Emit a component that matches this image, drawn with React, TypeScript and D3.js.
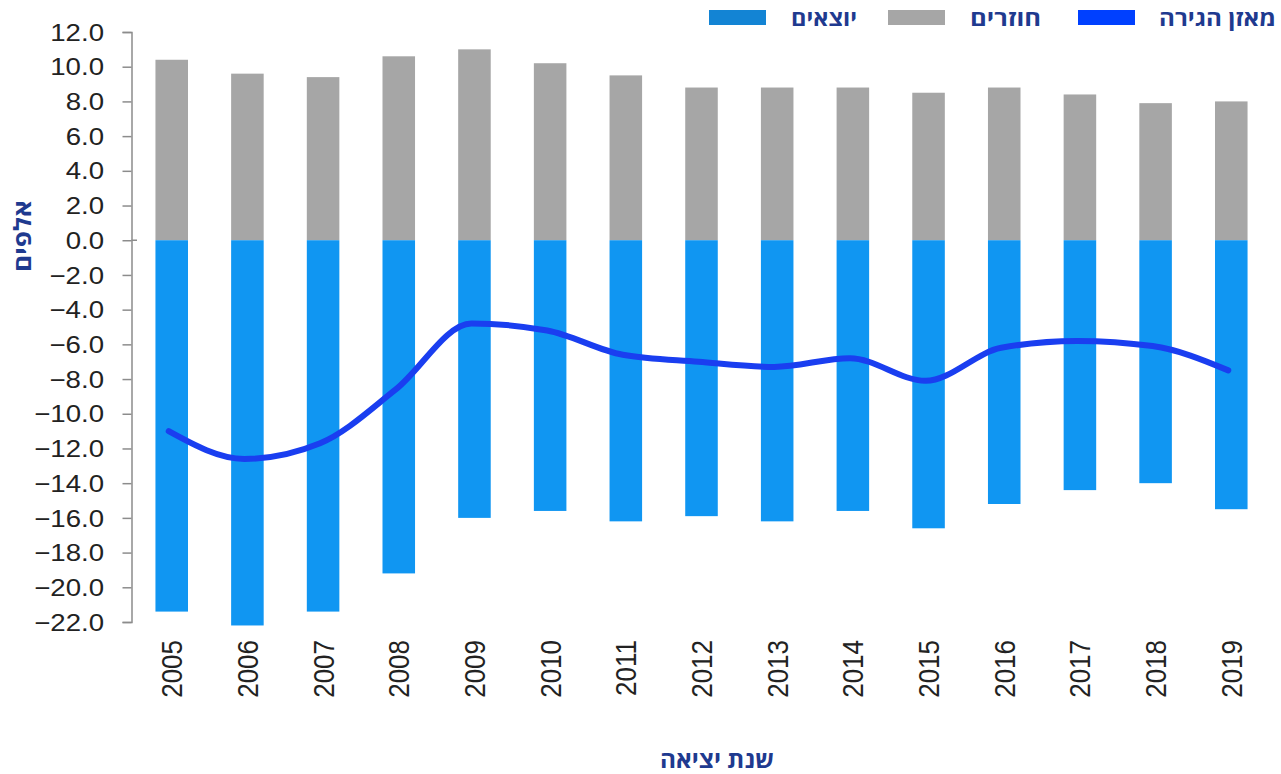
import React, { useEffect, useRef } from "react";
import * as d3 from "d3";

const years = ["2005", "2006", "2007", "2008", "2009", "2010", "2011", "2012", "2013", "2014", "2015", "2016", "2017", "2018", "2019"];
const returners = [10.4, 9.6, 9.4, 10.6, 11.0, 10.2, 9.5, 8.8, 8.8, 8.8, 8.5, 8.8, 8.4, 7.9, 8.0];
const leavers = [-21.4, -22.2, -21.4, -19.2, -16.0, -15.6, -16.2, -15.9, -16.2, -15.6, -16.6, -15.2, -14.4, -14.0, -15.5];
const balance = [-11.0, -12.6, -11.7, -8.6, -4.8, -5.2, -6.6, -7.0, -7.3, -6.8, -8.1, -6.2, -5.8, -6.1, -7.5];
const yTicks = [12, 10, 8, 6, 4, 2, 0, -2, -4, -6, -8, -10, -12, -14, -16, -18, -20, -22];

const W = 1281;
const H = 774;
const TITLE_COLOR = "#1f3a8f";
const HEB_FONT = "'Open Sans', 'DejaVu Sans', sans-serif";
const NUM_FONT = "'Liberation Sans', Arial, sans-serif";

export default function App() {
  const ref = useRef<SVGSVGElement>(null);

  useEffect(() => {
    const svg = d3.select(ref.current);
    svg.selectAll("*").remove();

    const x = d3.scaleBand().domain(years).range([133.5, 1269.5]).paddingInner(0.57).paddingOuter(0.29);
    const y = d3.scaleLinear().domain([-22, 12]).range([622, 32]);

    // returners (grey, above zero)
    svg.append("g")
      .selectAll("rect")
      .data(returners)
      .enter()
      .append("rect")
      .attr("x", (d, i) => x(years[i])!)
      .attr("width", x.bandwidth())
      .attr("y", (d) => y(d))
      .attr("height", (d) => y(0) - y(d))
      .attr("fill", "#a6a6a6");

    // leavers (blue, below zero)
    svg.append("g")
      .selectAll("rect")
      .data(leavers)
      .enter()
      .append("rect")
      .attr("x", (d, i) => x(years[i])!)
      .attr("width", x.bandwidth())
      .attr("y", y(0))
      .attr("height", (d) => y(d) - y(0))
      .attr("fill", "#1096f2");

    // y axis, labels drawn separately so they can be stretched like the original
    const axis = svg.append("g")
      .attr("transform", "translate(131.5,0)")
      .call(d3.axisLeft(y).tickValues(yTicks).tickSize(9).tickFormat(() => ""));
    axis.select(".domain").attr("stroke", "#8c8c8c").attr("stroke-width", 1.5);
    axis.selectAll(".tick line").attr("stroke", "#8c8c8c").attr("stroke-width", 1.5);

    svg.append("line")
      .attr("x1", 131.5).attr("x2", 137)
      .attr("y1", y(0)).attr("y2", y(0))
      .attr("stroke", "#8c8c8c").attr("stroke-width", 1.5);

    svg.append("g")
      .selectAll("text")
      .data(yTicks)
      .enter()
      .append("text")
      .attr("transform", (d) => `translate(104,${y(d)}) scale(1.15,1)`)
      .attr("dy", "0.36em")
      .attr("text-anchor", "end")
      .attr("fill", "#222")
      .style("font-family", NUM_FONT)
      .style("font-size", "24px")
      .text((d) => d3.format(".1f")(d));

    // balance line
    const line = d3.line<number>()
      .x((d, i) => x(years[i])! + x.bandwidth() / 2 - 3)
      .y((d) => y(d))
      .curve(d3.curveMonotoneX);
    svg.append("path")
      .datum(balance)
      .attr("d", line)
      .attr("fill", "none")
      .attr("stroke", "#1a3ef0")
      .attr("stroke-width", 6)
      .attr("stroke-linecap", "round")
      .attr("stroke-linejoin", "round");

    // year labels
    svg.append("g")
      .selectAll("text")
      .data(years)
      .enter()
      .append("text")
      .attr("transform", (d) => `translate(${x(d)! + x.bandwidth() / 2 + 10.5},640) scale(1.15,1) rotate(-90)`)
      .attr("text-anchor", "end")
      .attr("fill", "#222")
      .style("font-family", NUM_FONT)
      .style("font-size", "26px")
      .text((d) => d);

    // axis titles
    svg.append("text")
      .attr("transform", "translate(31,236) rotate(-90)")
      .attr("text-anchor", "middle")
      .attr("textLength", 72)
      .attr("lengthAdjust", "spacingAndGlyphs")
      .attr("fill", TITLE_COLOR)
      .style("font-family", HEB_FONT)
      .style("font-weight", "bold")
      .style("font-size", "24px")
      .text("אלפים");

    svg.append("text")
      .attr("x", 717)
      .attr("y", 768)
      .attr("text-anchor", "middle")
      .attr("textLength", 114)
      .attr("lengthAdjust", "spacingAndGlyphs")
      .attr("fill", TITLE_COLOR)
      .style("font-family", HEB_FONT)
      .style("font-weight", "bold")
      .style("font-size", "24px")
      .text("שנת יציאה");

    // legend
    const legend = [
      { label: "מאזן הגירה", color: "#0040ff", swatchX: 1078, textX: 1159, textW: 117 },
      { label: "חוזרים", color: "#a6a6a6", swatchX: 888, textX: 970, textW: 71 },
      { label: "יוצאים", color: "#1384d4", swatchX: 709, textX: 791, textW: 66 },
    ];
    const lg = svg.append("g");
    lg.selectAll("rect")
      .data(legend)
      .enter()
      .append("rect")
      .attr("x", (d) => d.swatchX)
      .attr("y", 10)
      .attr("width", 57)
      .attr("height", 15)
      .attr("fill", (d) => d.color);
    lg.selectAll("text")
      .data(legend)
      .enter()
      .append("text")
      .attr("x", (d) => d.textX)
      .attr("y", 26)
      .attr("textLength", (d) => d.textW)
      .attr("lengthAdjust", "spacingAndGlyphs")
      .attr("fill", TITLE_COLOR)
      .style("font-family", HEB_FONT)
      .style("font-weight", "bold")
      .style("font-size", "22px")
      .text((d) => d.label);
  }, []);

  return (
    <svg
      ref={ref}
      width={W}
      height={H}
      style={{ position: "absolute", left: 0, top: 0, background: "#fff" }}
    />
  );
}
